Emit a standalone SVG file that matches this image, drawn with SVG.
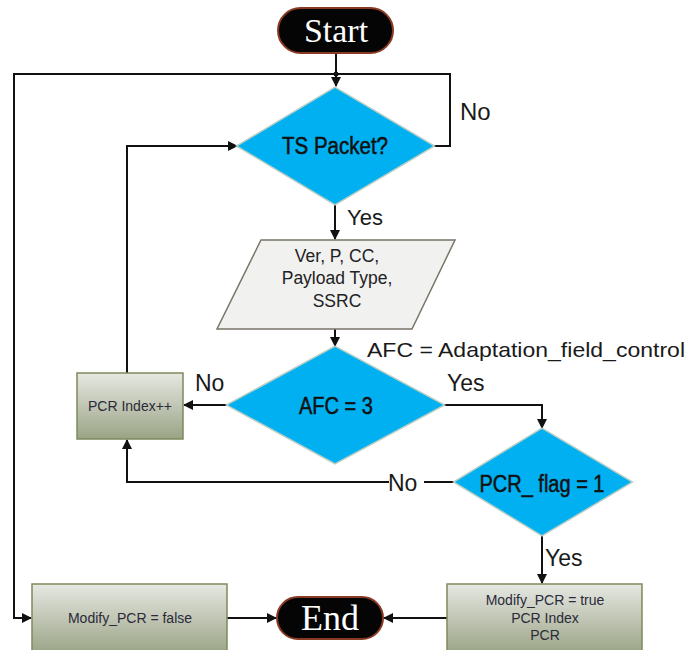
<svg xmlns="http://www.w3.org/2000/svg" width="687" height="650" viewBox="0 0 687 650">
  <style>
    .lbl { font-family: "Liberation Sans", Arial, sans-serif; fill: #1a1a1a; }
    .edge { fill: none; stroke: #111; stroke-width: 2; }
    .term { fill: #050505; stroke: #8a3a22; stroke-width: 2; }
    .termtxt { font-family: "Liberation Serif", "Times New Roman", serif; fill: #ffffff; text-anchor: middle; }
    .dec { fill: #00b0f0; stroke: #b9cfc6; stroke-width: 3; stroke-linejoin: miter; }
    .dectxt { font-family: "Liberation Sans", Arial, sans-serif; font-size: 23px; fill: #111; stroke: #111; stroke-width: 0.5; text-anchor: middle; }
    .proc { fill: url(#procFill); stroke: #7d8a5c; stroke-width: 1.5; }
    .proctxt { font-family: "Liberation Sans", Arial, sans-serif; font-size: 14px; fill: #2a2a3a; text-anchor: middle; }
    .io { fill: #f1f1f0; stroke: #7b7468; stroke-width: 1.5; }
    .iotxt { font-family: "Liberation Sans", Arial, sans-serif; font-size: 17.5px; fill: #222; text-anchor: middle; }
  </style>
  <defs>
    <linearGradient id="procFill" x1="0" y1="0" x2="0" y2="1">
      <stop offset="0" stop-color="#e6e8e2"/>
      <stop offset="1" stop-color="#9aa385"/>
    </linearGradient>
    <marker id="arrow" viewBox="0 0 10 10" refX="9" refY="5" markerWidth="5" markerHeight="5" orient="auto-start-reverse">
      <path d="M0,0 L10,5 L0,10 z" fill="#111"/>
    </marker>
    <filter id="soft" x="-10%" y="-10%" width="120%" height="120%">
      <feGaussianBlur stdDeviation="0.6"/>
    </filter>
  </defs>

  <g id="connectors">
    <!-- Start down to TS Packet? -->
    <path class="edge" d="M336,53 L336,86" marker-end="url(#arrow)"/>
    <circle cx="336" cy="74" r="2.5" fill="#111"/>
    <!-- No loop back to the top of TS Packet? -->
    <path class="edge" d="M433,146 L450,146 L450,74 L336,74"/>
    <!-- Left rail to Modify_PCR = false -->
    <path class="edge" d="M336,74 L14,74 L14,618 L31,618" marker-end="url(#arrow)"/>
    <!-- TS Packet? Yes to parameters -->
    <path class="edge" d="M335,204 L335,239" marker-end="url(#arrow)"/>
    <!-- parameters to AFC = 3 -->
    <path class="edge" d="M335,329 L335,346" marker-end="url(#arrow)"/>
    <!-- AFC = 3 No to PCR Index++ -->
    <path class="edge" d="M228,405 L184,405" marker-end="url(#arrow)"/>
    <!-- PCR Index++ back to TS Packet? -->
    <path class="edge" d="M127,373 L127,146 L237,146" marker-end="url(#arrow)"/>
    <!-- AFC = 3 Yes to PCR_ flag = 1 -->
    <path class="edge" d="M443,405 L542,405 L542,428" marker-end="url(#arrow)"/>
    <!-- PCR_ flag = 1 No back to PCR Index++ -->
    <path class="edge" d="M455,482 L424,482"/>
    <path class="edge" d="M389,482 L127,482 L127,440" marker-end="url(#arrow)"/>
    <!-- PCR_ flag = 1 Yes to Modify_PCR = true -->
    <path class="edge" d="M542,535 L542,583" marker-end="url(#arrow)"/>
    <!-- Modify_PCR = true to End -->
    <path class="edge" d="M447,618 L384,618" marker-end="url(#arrow)"/>
    <!-- Modify_PCR = false to End -->
    <path class="edge" d="M227,618 L276,618" marker-end="url(#arrow)"/>

    <text class="lbl" x="460" y="120" font-size="24">No</text>
    <text class="lbl" x="347" y="225" font-size="22">Yes</text>
    <text class="lbl" x="195" y="391" font-size="23">No</text>
    <text class="lbl" x="447" y="391" font-size="23">Yes</text>
    <text class="lbl" x="388" y="491" font-size="23">No</text>
    <text class="lbl" x="545" y="566" font-size="23">Yes</text>
    <text class="lbl" x="367" y="357" font-size="21" textLength="318" lengthAdjust="spacingAndGlyphs">AFC = Adaptation_field_control</text>
  </g>

  <g id="start">
    <rect class="term" x="278" y="8" width="115" height="45" rx="22.5"/>
    <text class="termtxt" x="336" y="42" font-size="34">Start</text>
  </g>

  <g id="ts-packet">
    <polygon class="dec" points="335,88 433,146 335,204 238,146" filter="url(#soft)"/>
    <polygon points="335,88 433,146 335,204 238,146" fill="#00b0f0"/>
    <text class="dectxt" x="335" y="154" textLength="106" lengthAdjust="spacingAndGlyphs">TS Packet?</text>
  </g>

  <g id="parameters">
    <polygon class="io" points="261,240 455,240 412,329 217,329"/>
    <text class="iotxt" x="337" y="262">Ver, P, CC,</text>
    <text class="iotxt" x="337" y="284">Payload Type,</text>
    <text class="iotxt" x="337" y="307">SSRC</text>
  </g>

  <g id="afc">
    <polygon class="dec" points="335,347 443,405 335,463 228,405" filter="url(#soft)"/>
    <polygon points="335,347 443,405 335,463 228,405" fill="#00b0f0"/>
    <text class="dectxt" x="336" y="414" textLength="74" lengthAdjust="spacingAndGlyphs">AFC = 3</text>
  </g>

  <g id="pcr-index-inc">
    <rect class="proc" x="77" y="373" width="106" height="66"/>
    <text class="proctxt" x="130" y="411">PCR Index++</text>
  </g>

  <g id="pcr-flag">
    <polygon class="dec" points="542,429 631,482 542,535 455,482" filter="url(#soft)"/>
    <polygon points="542,429 631,482 542,535 455,482" fill="#00b0f0"/>
    <text class="dectxt" x="542" y="492" textLength="125" lengthAdjust="spacingAndGlyphs">PCR_ flag = 1</text>
  </g>

  <g id="modify-true">
    <rect class="proc" x="447" y="584" width="195" height="70"/>
    <text class="proctxt" x="545" y="605">Modify_PCR = true</text>
    <text class="proctxt" x="545" y="623">PCR Index</text>
    <text class="proctxt" x="545" y="640">PCR</text>
  </g>

  <g id="modify-false">
    <rect class="proc" x="32" y="584" width="195" height="70"/>
    <text class="proctxt" x="130" y="623">Modify_PCR = false</text>
  </g>

  <g id="end">
    <rect class="term" x="277" y="597" width="106" height="42" rx="21"/>
    <text class="termtxt" x="330" y="630" font-size="36">End</text>
  </g>
</svg>
